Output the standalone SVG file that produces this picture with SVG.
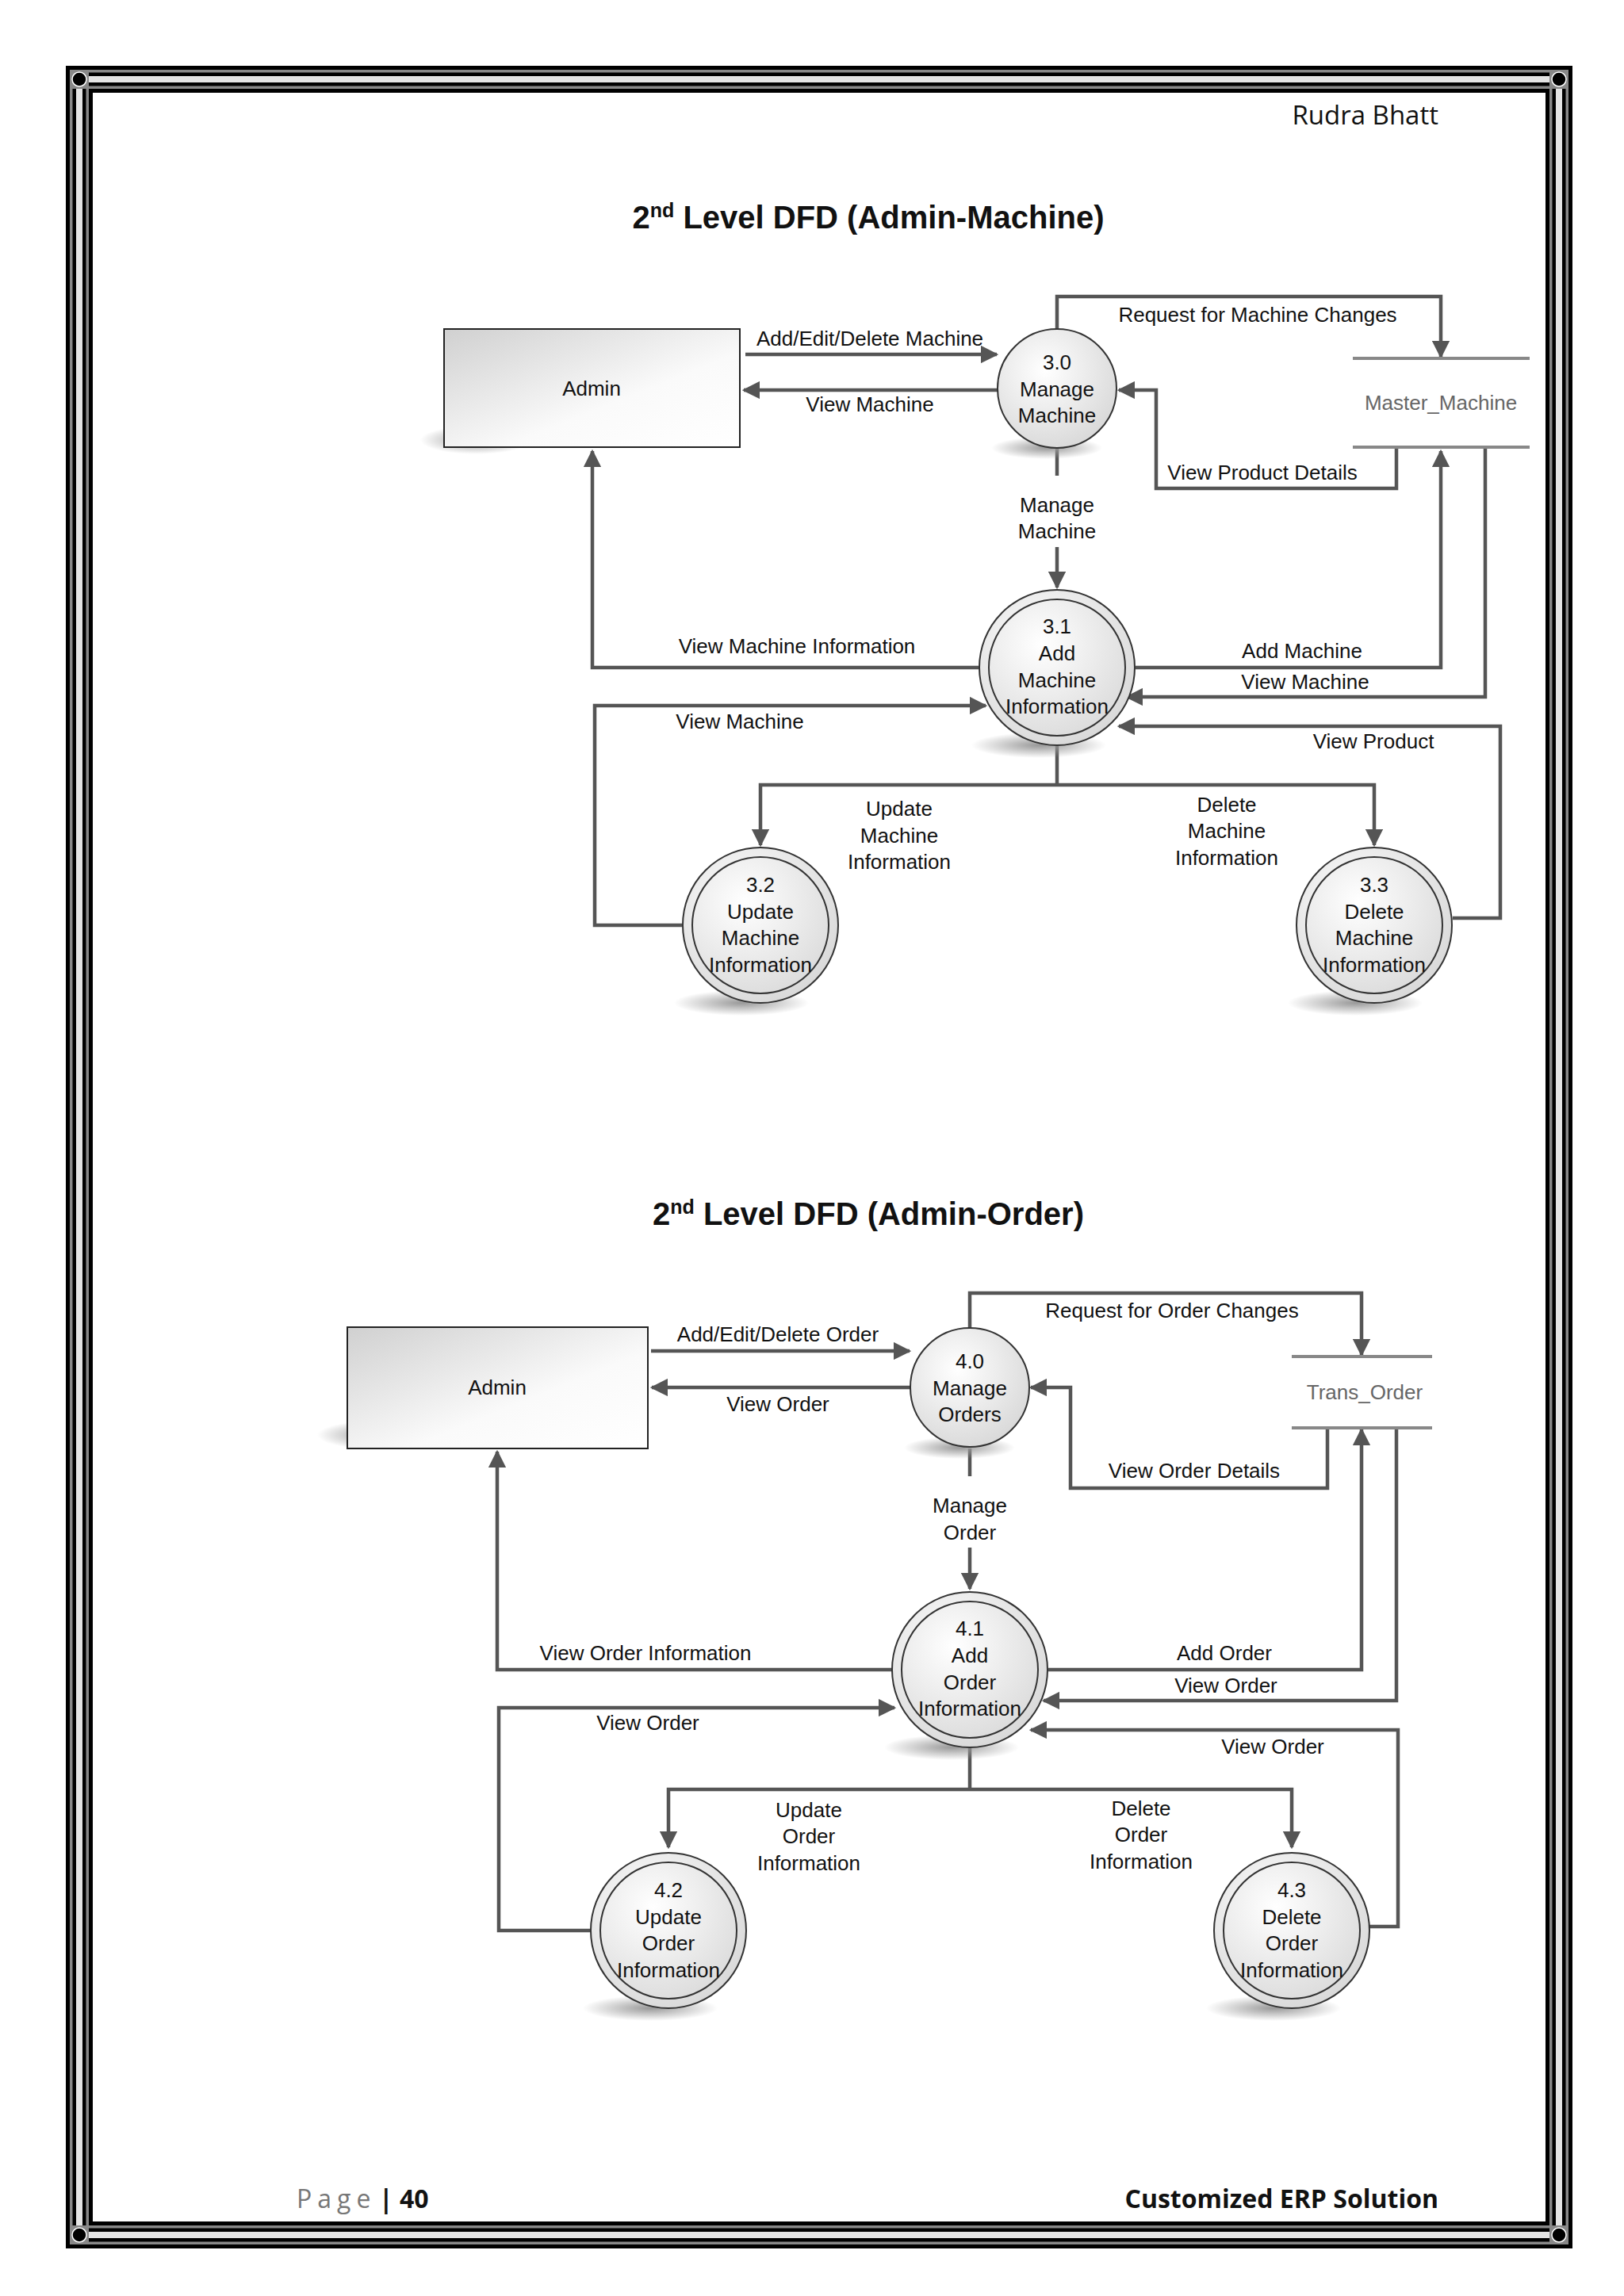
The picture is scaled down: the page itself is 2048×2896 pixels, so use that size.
<svg xmlns="http://www.w3.org/2000/svg" width="2048" height="2896" viewBox="0 0 2048 2896">
<style>
text{font-family:"Liberation Sans",Arial,sans-serif;fill:#111}
.lbl{font-size:26px}
.nd{font-size:26px;text-anchor:middle}
.ttl{font-size:40px;font-weight:bold;text-anchor:middle}
.c{fill:none;stroke:#555;stroke-width:4.5}
.a{marker-end:url(#ah)}
.st{stroke:#888;stroke-width:4}
.cir{fill:url(#rg);stroke:#333;stroke-width:2}
.sh{fill:url(#shg)}
</style>
<defs>
<marker id="ah" viewBox="0 0 10 10" refX="9" refY="5" markerWidth="5" markerHeight="5" orient="auto" markerUnits="strokeWidth"><path d="M0,0L10,5L0,10z" fill="#555"/></marker>
<radialGradient id="rg" cx="0.4" cy="0.35" r="0.7"><stop offset="0" stop-color="#fff"/><stop offset="1" stop-color="#d8d8d8"/></radialGradient>
<linearGradient id="bg" x1="0" y1="0" x2="1" y2="1"><stop offset="0" stop-color="#d0d0d0"/><stop offset="0.6" stop-color="#fafafa"/><stop offset="1" stop-color="#fff"/></linearGradient>
<radialGradient id="shg"><stop offset="0" stop-color="#999"/><stop offset="1" stop-color="#999" stop-opacity="0"/></radialGradient>
</defs>
<rect width="2048" height="2896" fill="#fff"/>
<g id="border" fill="none">
<rect x="100" y="100" width="1866" height="2719" stroke="#000" stroke-width="34"/>
<rect x="100" y="100" width="1866" height="2719" stroke="#888" stroke-width="24"/>
<rect x="100" y="100" width="1866" height="2719" stroke="#000" stroke-width="17"/>
<rect x="100" y="100" width="1866" height="2719" stroke="#e4e4e4" stroke-width="8"/>
<g fill="#888" stroke="none"><rect x="88" y="88" width="24" height="24"/><rect x="1954" y="88" width="24" height="24"/><rect x="88" y="2807" width="24" height="24"/><rect x="1954" y="2807" width="24" height="24"/></g>
<g fill="#000" stroke="#fff" stroke-width="1.5"><circle cx="100" cy="100" r="9"/><circle cx="1966" cy="100" r="9"/><circle cx="100" cy="2819" r="9"/><circle cx="1966" cy="2819" r="9"/></g>
</g>
<text x="1814" y="157" style="font-family:'Open Sans','Liberation Sans',sans-serif;font-size:33px;text-anchor:end">Rudra Bhatt</text>
<text x="1095" y="288" class="ttl">2<tspan dy="-14" font-size="25">nd</tspan><tspan dy="14"> Level DFD (Admin-Machine)</tspan></text>
<text x="1095" y="1545" class="ttl">2<tspan dy="-14" font-size="25">nd</tspan><tspan dy="14"> Level DFD (Admin-Order)</tspan></text>

<g id="connectors">
<!-- top -->
<path class="c a" d="M940,447H1257"/>
<path class="c a" d="M1258,492H938"/>
<path class="c a" d="M1333,415V374H1817V450"/>
<path class="c a" d="M1761,564V616H1458V492H1411"/>
<path class="c" d="M1333,566V600"/><path class="c a" d="M1333,690V741"/>
<path class="c a" d="M1234,842H747V569"/>
<path class="c a" d="M1432,842H1817V569"/>
<path class="c a" d="M1873,564V879H1421"/>
<path class="c a" d="M1832,1158H1892V916H1411"/>
<path class="c a" d="M860,1167H750V890H1243"/>
<path class="c" d="M1333,941V990"/>
<path class="c a" d="M1333,990H959V1066"/>
<path class="c a" d="M1333,990H1733V1066"/>
<!-- bottom -->
<path class="c a" d="M821,1704H1147"/>
<path class="c a" d="M1148,1750H822"/>
<path class="c a" d="M1223,1676V1631H1717V1709"/>
<path class="c a" d="M1674,1801V1877H1350V1750H1300"/>
<path class="c" d="M1223,1827V1862"/><path class="c a" d="M1223,1952V2004"/>
<path class="c a" d="M1125,2106H627V1831"/>
<path class="c a" d="M1322,2106H1717V1803"/>
<path class="c a" d="M1761,1801V2145H1316"/>
<path class="c a" d="M1724,2430H1763V2182H1300"/>
<path class="c a" d="M745,2435H629V2154H1128"/>
<path class="c" d="M1223,2205V2257"/>
<path class="c a" d="M1223,2257H843V2330"/>
<path class="c a" d="M1223,2257H1629V2330"/>
</g>
<g id="labels" class="lbl">
<text x="1097" y="436" text-anchor="middle">Add/Edit/Delete Machine</text>
<text x="1097" y="519" text-anchor="middle">View Machine</text>
<text x="1586" y="406" text-anchor="middle">Request for Machine Changes</text>
<text x="1592" y="605" text-anchor="middle">View Product Details</text>
<text x="1333" y="646" text-anchor="middle">Manage</text><text x="1333" y="679" text-anchor="middle">Machine</text>
<text x="1005" y="824" text-anchor="middle">View Machine Information</text>
<text x="1642" y="830" text-anchor="middle">Add Machine</text>
<text x="1646" y="869" text-anchor="middle">View Machine</text>
<text x="1732" y="944" text-anchor="middle">View Product</text>
<text x="933" y="919" text-anchor="middle">View Machine</text>
<text x="1134" y="1029" text-anchor="middle">Update</text><text x="1134" y="1063" text-anchor="middle">Machine</text><text x="1134" y="1096" text-anchor="middle">Information</text>
<text x="1547" y="1024" text-anchor="middle">Delete</text><text x="1547" y="1057" text-anchor="middle">Machine</text><text x="1547" y="1091" text-anchor="middle">Information</text>
<text x="981" y="1692" text-anchor="middle">Add/Edit/Delete Order</text>
<text x="981" y="1780" text-anchor="middle">View Order</text>
<text x="1478" y="1662" text-anchor="middle">Request for Order Changes</text>
<text x="1506" y="1864" text-anchor="middle">View Order Details</text>
<text x="1223" y="1908" text-anchor="middle">Manage</text><text x="1223" y="1942" text-anchor="middle">Order</text>
<text x="814" y="2094" text-anchor="middle">View Order Information</text>
<text x="1544" y="2094" text-anchor="middle">Add Order</text>
<text x="1546" y="2135" text-anchor="middle">View Order</text>
<text x="1605" y="2212" text-anchor="middle">View Order</text>
<text x="817" y="2182" text-anchor="middle">View Order</text>
<text x="1020" y="2292" text-anchor="middle">Update</text><text x="1020" y="2325" text-anchor="middle">Order</text><text x="1020" y="2359" text-anchor="middle">Information</text>
<text x="1439" y="2290" text-anchor="middle">Delete</text><text x="1439" y="2323" text-anchor="middle">Order</text><text x="1439" y="2357" text-anchor="middle">Information</text>
</g>

<g id="admin1"><ellipse cx="600" cy="555" rx="70" ry="18" class="sh"/><rect x="560" y="415" width="373" height="149" fill="url(#bg)" stroke="#222" stroke-width="2"/><text x="746" y="499" class="nd">Admin</text></g>
<g id="p30"><ellipse cx="1320" cy="565" rx="70" ry="14" class="sh"/><circle cx="1333" cy="490" r="75" class="cir"/><text x="1333" y="466" class="nd">3.0</text><text x="1333" y="500" class="nd">Manage</text><text x="1333" y="533" class="nd">Machine</text></g>
<g id="store1"><line x1="1706" y1="452" x2="1929" y2="452" class="st"/><line x1="1706" y1="564" x2="1929" y2="564" class="st"/><text x="1817" y="517" class="nd" style="fill:#666">Master_Machine</text></g>
<g id="p31"><ellipse cx="1310" cy="940" rx="85" ry="16" class="sh"/><circle cx="1333" cy="842" r="98" class="cir"/><circle cx="1333" cy="842" r="86" fill="none" stroke="#333" stroke-width="2"/><text x="1333" y="799" class="nd">3.1</text><text x="1333" y="833" class="nd">Add</text><text x="1333" y="867" class="nd">Machine</text><text x="1333" y="900" class="nd">Information</text></g>
<g id="p32"><ellipse cx="935" cy="1265" rx="85" ry="16" class="sh"/><circle cx="959" cy="1167" r="98" class="cir"/><circle cx="959" cy="1167" r="86" fill="none" stroke="#333" stroke-width="2"/><text x="959" y="1125" class="nd">3.2</text><text x="959" y="1159" class="nd">Update</text><text x="959" y="1192" class="nd">Machine</text><text x="959" y="1226" class="nd">Information</text></g>
<g id="p33"><ellipse cx="1709" cy="1265" rx="85" ry="16" class="sh"/><circle cx="1733" cy="1167" r="98" class="cir"/><circle cx="1733" cy="1167" r="86" fill="none" stroke="#333" stroke-width="2"/><text x="1733" y="1125" class="nd">3.3</text><text x="1733" y="1159" class="nd">Delete</text><text x="1733" y="1192" class="nd">Machine</text><text x="1733" y="1226" class="nd">Information</text></g>

<g id="admin2"><ellipse cx="475" cy="1810" rx="75" ry="18" class="sh"/><rect x="438" y="1674" width="379" height="153" fill="url(#bg)" stroke="#222" stroke-width="2"/><text x="627" y="1759" class="nd">Admin</text></g>
<g id="p40"><ellipse cx="1210" cy="1826" rx="70" ry="14" class="sh"/><circle cx="1223" cy="1750" r="75" class="cir"/><text x="1223" y="1726" class="nd">4.0</text><text x="1223" y="1760" class="nd">Manage</text><text x="1223" y="1793" class="nd">Orders</text></g>
<g id="store2"><line x1="1629" y1="1711" x2="1806" y2="1711" class="st"/><line x1="1629" y1="1801" x2="1806" y2="1801" class="st"/><text x="1721" y="1765" class="nd" style="fill:#666">Trans_Order</text></g>
<g id="p41"><ellipse cx="1200" cy="2204" rx="85" ry="16" class="sh"/><circle cx="1223" cy="2106" r="98" class="cir"/><circle cx="1223" cy="2106" r="86" fill="none" stroke="#333" stroke-width="2"/><text x="1223" y="2063" class="nd">4.1</text><text x="1223" y="2097" class="nd">Add</text><text x="1223" y="2131" class="nd">Order</text><text x="1223" y="2164" class="nd">Information</text></g>
<g id="p42"><ellipse cx="820" cy="2533" rx="85" ry="16" class="sh"/><circle cx="843" cy="2435" r="98" class="cir"/><circle cx="843" cy="2435" r="86" fill="none" stroke="#333" stroke-width="2"/><text x="843" y="2393" class="nd">4.2</text><text x="843" y="2427" class="nd">Update</text><text x="843" y="2460" class="nd">Order</text><text x="843" y="2494" class="nd">Information</text></g>
<g id="p43"><ellipse cx="1606" cy="2533" rx="85" ry="16" class="sh"/><circle cx="1629" cy="2435" r="98" class="cir"/><circle cx="1629" cy="2435" r="86" fill="none" stroke="#333" stroke-width="2"/><text x="1629" y="2393" class="nd">4.3</text><text x="1629" y="2427" class="nd">Delete</text><text x="1629" y="2460" class="nd">Order</text><text x="1629" y="2494" class="nd">Information</text></g>

<text x="374" y="2785" style="font-family:'Open Sans','Liberation Sans',sans-serif;font-size:32px;fill:#777;letter-spacing:7px">Page</text>
<text x="478" y="2785" style="font-family:'Open Sans','Liberation Sans',sans-serif;font-size:32px;font-weight:bold">| 40</text>
<text x="1814" y="2785" style="font-family:'Open Sans','Liberation Sans',sans-serif;font-size:32px;font-weight:bold;text-anchor:end">Customized ERP Solution</text>
</svg>
